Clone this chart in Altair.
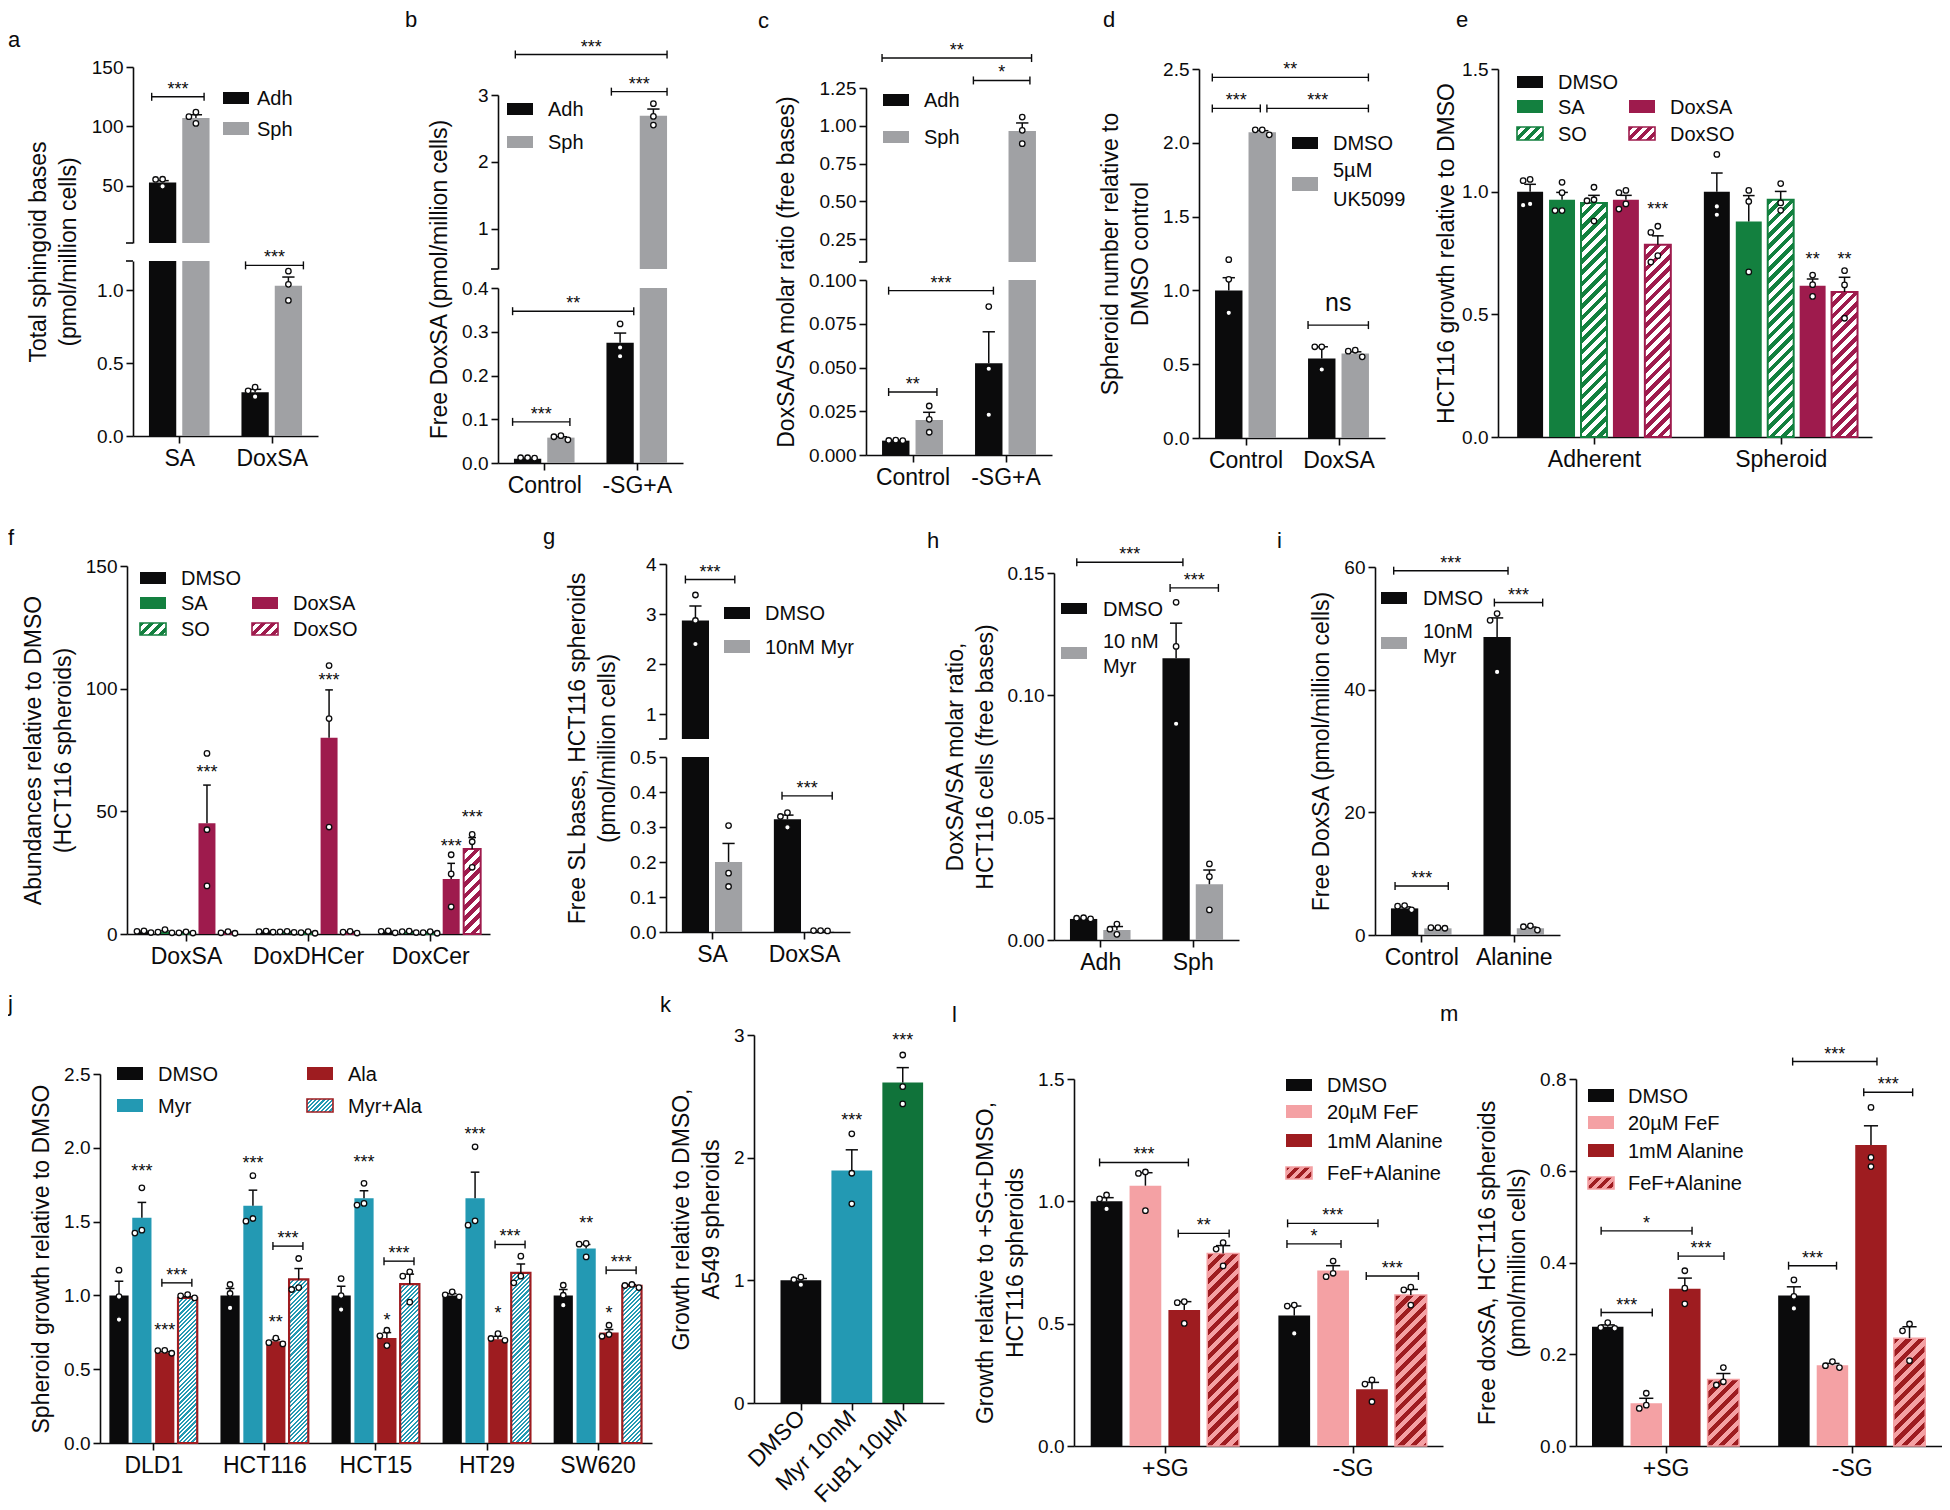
import json
import math
import altair as alt
import pandas as pd

FONT = "Liberation Sans"
BLACK = "#0b0b0c"
GRAY = "#a0a1a4"
GREEN = "#13803f"
CRIMSON = "#9e1b4d"
TEAL = "#2399b3"
DKRED = "#9e1c20"
PINK = "#f4a1a4"
FGREEN = "#10733a"
WHITE = "#ffffff"

# ---------------- data ----------------
# a
a_groups = ["SA", "DoxSA"]
a_mean = [[52.8, 0.30], [107.0, 1.03]]
a_sem = [[1.5, 0.02], [2.8, 0.06]]
a_pts = [[[55.5, 49.5, 55.3], [0.31, 0.335, 0.27]], [[108.2, 112.0, 102.5], [1.13, 1.04, 0.93]]]
a_brackets = [(0, 0, 0, 1, 124.9, "***", -0.4, 0.3), (1, 0, 1, 1, 1.17, "***", -0.35, 0.55)]

# b
b_groups = ["Control", "-SG+A"]
b_mean = [[0.010, 0.275], [0.058, 2.69]]
b_sem = [[0.001, 0.022], [0.002, 0.10]]
b_pts = [[[0.012, 0.012, 0.011], [0.318, 0.264, 0.244]], [[0.0625, 0.060, 0.053], [2.87, 2.68, 2.55]]]
b_brackets = [(0, 0, 1, 1, 3.605, "***", -0.45, 0.5), (1, 0, 1, 1, 3.05, "***", -0.32, 0.5),
              (0, 0, 1, 0, 0.347, "**", -0.55, 0.5), (0, 0, 0, 1, 0.094, "***", -0.55, 0.33)]

# c
c_groups = ["Control", "-SG+A"]
c_mean = [[0.0082, 0.0524], [0.020, 0.966]]
c_sem = [[0.0002, 0.018], [0.0044, 0.053]]
c_pts = [[[0.0085, 0.0083, 0.0082], [0.0848, 0.0493, 0.023]], [[0.028, 0.0204, 0.013], [1.058, 0.97, 0.882]]]
c_brackets = [(0, 0, 1, 1, 1.448, "**", -0.5, 0.34), (1, 0, 1, 1, 1.30, "*", -0.56, 0.28),
              (0, 0, 1, 0, 0.0939, "***", -0.26, 0.17), (0, 0, 0, 1, 0.036, "**", -0.26, 0.28)]

# d
d_groups = ["Control", "DoxSA"]
d_mean = [[1.0, 0.538], [2.072, 0.572]]
d_sem = [[0.086, 0.08], [0.01, 0.012]]
d_pts = [[[1.208, 1.075, 0.848], [0.618, 0.618, 0.464]], [[2.088, 2.088, 2.054], [0.588, 0.595, 0.55]]]
d_brackets = [(0, 0, 1, 1, 2.443, "**", -0.6, 0.48), (0, 0, 0, 1, 2.233, "***", -0.6, -0.07),
              (0, 1, 1, 1, 2.233, "***", 0.17, 0.48), (1, 0, 1, 1, 0.765, "ns", -0.5, 0.48)]

# e
e_groups = ["Adherent", "Spheroid"]
e_mean = [[1.0, 1.0], [0.967, 0.878], [0.954, 0.967], [0.967, 0.617], [0.784, 0.591]]
e_sem = [[0.03, 0.076], [0.03, 0.106], [0.031, 0.034], [0.018, 0.027], [0.036, 0.06]]
e_pts = [
    [[1.05, 1.045, 0.95, 0.945], [1.152, 0.94, 0.906]],
    [[1.038, 0.996, 0.923, 0.923], [1.005, 0.96, 0.673]],
    [[1.018, 0.967, 0.963, 0.880], [1.033, 0.954, 0.924]],
    [[1.005, 0.996, 0.95, 0.929], [0.66, 0.621, 0.573]],
    [[0.859, 0.834, 0.739, 0.713], [0.678, 0.62, 0.484]],
]
e_stars = [(0, 4, 0.94, "***"), (1, 3, 0.736, "**"), (1, 4, 0.736, "**")]

# f
f_groups = ["DoxSA", "DoxDHCer", "DoxCer"]
f_mean = [[1.0, 1.0, 1.0], [1.0, 0.9, 0.9], [0.6, 0.6, 0.6], [45.1, 80.0, 22.4], [0.6, 0.7, 34.6]]
f_sem = [[0.2, 0.15, 0.2], [0.35, 0.1, 0.15], [0.15, 0.2, 0.2], [15.6, 19.5, 6.4], [0.2, 0.2, 4.7]]
f_pts = [
    [[1.3, 1.1, 0.6], [1.2, 1.0, 0.8], [1.3, 1.1, 0.5]],
    [[1.8, 0.8, 0.5], [1.1, 0.9, 0.7], [1.2, 1.0, 0.6]],
    [[0.9, 0.5, 0.4], [1.0, 0.6, 0.3], [1.0, 0.6, 0.3]],
    [[73.6, 42.5, 19.6], [109.4, 87.8, 43.6], [32.3, 24.5, 11.1]],
    [[1.0, 0.5, 0.3], [1.1, 0.8, 0.4], [40.6, 37.6, 27.2]],
]
f_stars = [(0, 3, 67.1, "***"), (1, 3, 104.9, "***"), (2, 3, 37.2, "***"), (2, 4, 48.8, "***")]

# g
g_groups = ["SA", "DoxSA"]
g_mean = [[2.87, 0.322], [0.20, 0.003]]
g_sem = [[0.29, 0.012], [0.053, 0.0005]]
g_pts = [[[3.38, 2.87, 2.40], [0.341, 0.33, 0.299]], [[0.304, 0.168, 0.130], [0.004, 0.004, 0.003]]]
g_brackets = [(0, 0, 0, 1, 3.69, "***", -0.37, 0.23), (1, 0, 1, 1, 0.389, "***", -0.2, 0.43)]

# h
h_groups = ["Adh", "Sph"]
h_mean = [[0.0086, 0.1152], [0.0041, 0.0228]]
h_sem = [[0.0002, 0.0143], [0.0014, 0.0058]]
h_pts = [[[0.0091, 0.0089, 0.0086], [0.138, 0.12, 0.0884]], [[0.0065, 0.0044, 0.0023], [0.0311, 0.0259, 0.0123]]]
h_brackets = [(0, 0, 1, 0, 0.1544, "***", -0.25, 0.25), (1, 0, 1, 1, 0.1439, "***", -0.22, 0.33)]

# i
i_groups = ["Control", "Alanine"]
i_mean = [[4.34, 48.6], [1.09, 1.1]]
i_sem = [[0.25, 3.1], [0.05, 0.2]]
i_pts = [[[4.8, 4.7, 4.1], [52.4, 51.3, 42.9]], [[1.2, 1.2, 1.1], [1.5, 1.35, 0.8]]]
i_brackets = [(0, 0, 1, 0, 59.4, "***", -0.4, 0.4), (1, 0, 1, 1, 54.2, "***", -0.1, 0.45),
              (0, 0, 0, 1, 8.0, "***", -0.35, 0.38)]

# j
j_groups = ["DLD1", "HCT116", "HCT15", "HT29", "SW620"]
j_mean = [[1.0, 1.0, 1.0, 1.0, 1.0],
          [1.526, 1.607, 1.659, 1.659, 1.318],
          [0.613, 0.689, 0.712, 0.703, 0.748],
          [0.983, 1.108, 1.076, 1.153, 1.065]]
j_sem = [[0.096, 0.047, 0.062, 0.012, 0.04],
         [0.104, 0.106, 0.05, 0.176, 0.027],
         [0.006, 0.012, 0.036, 0.02, 0.021],
         [0.008, 0.074, 0.068, 0.059, 0.008]]
j_pts = [
    [[1.171, 0.992, 0.836], [1.074, 1.013, 0.915], [1.114, 0.999, 0.904], [1.024, 1.004, 0.99], [1.069, 1.001, 0.934]],
    [[1.729, 1.442, 1.422], [1.811, 1.521, 1.503], [1.759, 1.623, 1.612], [2.007, 1.505, 1.476], [1.352, 1.347, 1.261]],
    [[0.628, 0.626, 0.608], [0.71, 0.68, 0.671], [0.764, 0.726, 0.66], [0.741, 0.708, 0.696], [0.798, 0.735, 0.723]],
    [[1.006, 0.997, 0.983], [1.25, 1.053, 1.04], [1.16, 1.13, 0.954], [1.266, 1.13, 1.085], [1.074, 1.067, 1.053]],
]
j_myr_stars = [1.865, 1.917, 1.921, 2.116, 1.51]
j_myr_labels = ["***", "***", "***", "***", "**"]
j_ala_stars = [0.787, 0.843, 0.854, 0.9, 0.9]
j_ala_labels = ["***", "**", "*", "*", "*"]
j_bracket_y = [1.085, 1.334, 1.232, 1.345, 1.171]

# k
k_groups = ["DMSO", "Myr 10nM", "FuB1 10µM"]
k_mean = [1.0, 1.895, 2.612]
k_sem = [0.015, 0.169, 0.122]
k_pts = [[1.026, 1.005, 0.964], [2.194, 1.873, 1.624], [2.837, 2.579, 2.438]]
k_stars = [(1, 0, 2.335, "***"), (2, 0, 2.98, "***")]

# l
l_groups = ["+SG", "-SG"]
l_mean = [[1.0, 0.533], [1.064, 0.717], [0.556, 0.232], [0.787, 0.617]]
l_sem = [[0.015, 0.039], [0.053, 0.02], [0.034, 0.028], [0.032, 0.023]]
l_pts = [
    [[1.026, 1.01, 0.969], [0.576, 0.572, 0.46]],
    [[1.12, 1.114, 0.962], [0.756, 0.706, 0.692]],
    [[0.59, 0.586, 0.501], [0.27, 0.253, 0.181]],
    [[0.831, 0.805, 0.736], [0.649, 0.638, 0.576]],
]
l_brackets = [(0, 0, 0, 2, 1.159, "***", -0.22, 0.13), (0, 2, 0, 3, 0.869, "**", -0.19, 0.19),
              (1, 0, 1, 2, 0.91, "***", -0.21, 0.19), (1, 0, 1, 1, 0.826, "*", -0.23, 0.25),
              (1, 2, 1, 3, 0.695, "***", -0.18, 0.24)]

# m
m_groups = ["+SG", "-SG"]
m_mean = [[0.260, 0.328], [0.093, 0.176], [0.343, 0.656], [0.145, 0.235]]
m_sem = [[0.004, 0.019], [0.011, 0.004], [0.023, 0.042], [0.013, 0.025]]
m_pts = [
    [[0.269, 0.258, 0.2565], [0.362, 0.326, 0.30]],
    [[0.115, 0.089, 0.082], [0.184, 0.175, 0.171]],
    [[0.382, 0.344, 0.31], [0.738, 0.629, 0.609]],
    [[0.171, 0.14, 0.133], [0.266, 0.251, 0.186]],
]
m_brackets = [(1, 0, 1, 2, 0.838, "***", -0.04, 0.19), (1, 2, 1, 3, 0.771, "***", -0.23, 0.1),
              (0, 0, 0, 2, 0.469, "*", -0.21, 0.23), (0, 2, 0, 3, 0.414, "***", -0.21, 0.02),
              (0, 0, 0, 1, 0.291, "***", -0.21, 0.19), (1, 0, 1, 1, 0.393, "***", -0.17, 0.13)]

# hatch styles: (stripe colour, background, outline, period px, outline width)
HG = (GREEN, WHITE, GREEN, 8, 2)
HC = (CRIMSON, WHITE, CRIMSON, 8, 2)
HF = (DKRED, PINK, PINK, 9, 1.5)
HM = (TEAL, WHITE, DKRED, 3, 2.2)

DUMMY = pd.DataFrame({"z": [0]})
DOT = 7.0
VIEW_W, VIEW_H = 1934, 1494
PAGE = 8  # page margin


def hatch_fill(stripe, bg, w, h, period):
    w = max(float(w), 1.0)
    h = max(float(h), 1.0)
    k = (w + h) / (w * w + h * h)
    D = (w + h) / math.sqrt(2.0)
    pt = period / D
    stops = []
    t = 0.0
    while t < 1.0 - 1e-9:
        t1 = min(t + 0.5 * pt, 1.0)
        t2 = min(t + pt, 1.0)
        stops += [{"offset": round(t, 5), "color": stripe}, {"offset": round(t1, 5), "color": stripe},
                  {"offset": round(t1, 5), "color": bg}, {"offset": round(t2, 5), "color": bg}]
        t += pt
    return {"gradient": "linear", "x1": 0, "y1": 0, "x2": round(w * k, 5), "y2": round(h * k, 5),
            "stops": stops}


def ypx(seg, v):
    d0, d1 = seg["domain"]
    r0, r1 = seg["range"]
    return r0 + (v - d0) / (d1 - d0) * (r1 - r0)


def seg_of(segs, v):
    if len(segs) == 1:
        return 0
    return 1 if v > segs[1]["domain"][0] + 1e-12 else 0


def swarm(pys, d):
    offs = [0.0] * len(pys)
    placed = []
    for i in sorted(range(len(pys)), key=lambda q: pys[q]):
        for c in [0.0, -d, d, -2 * d, 2 * d, -3 * d, 3 * d]:
            if all(math.hypot(c - offs[j], pys[i] - pys[j]) >= d for j in placed):
                offs[i] = c
                break
        placed.append(i)
    return offs


def series_list(means, sems, pts, colors, hatches=None):
    out = []
    for s in range(len(means)):
        out.append(dict(mean=means[s], sem=sems[s], pts=pts[s], color=colors[s],
                        hatch=(hatches[s] if hatches else None)))
    return out


def make_panel(P):
    # panel origin in view pixels: left edge of plot, top of its row
    ox = P["origin"][0] - PAGE
    oy = P["origin"][1] - PAGE
    W, H = P["width"], P["height"]
    xd = P["xdomain"]
    pxu = W / (xd[1] - xd[0])
    groups = P["groups"]
    G = len(groups)
    series = P["series"]
    S = len(series)
    step, bw = P["step"], P["bw"]
    bwpx = bw * pxu
    segs = [dict(s, range=[s["range"][0] + oy, s["range"][1] + oy]) for s in P["segs"]]
    cap = P.get("cap", 0.45) * bwpx

    def center(g, s):
        return g + (s - (S - 1) / 2.0) * step

    xscale = alt.Scale(domain=xd, range=[ox, ox + W], nice=False, zero=False)
    xaxis = alt.Axis(values=list(range(G)),
                     labelExpr=json.dumps(groups, ensure_ascii=False) + "[datum.value]",
                     title=None, labelFontSize=23, labelAngle=P.get("xangle", 0), orient="bottom",
                     offset=oy + H - VIEW_H,
                     labelPadding=P.get("xpad", 4), labelFlush=False, labelOverlap=False,
                     labelBound=False, **P.get("xaxis_extra", {}))

    def Xf(f):
        return alt.X(f + ":Q", scale=xscale, axis=xaxis)

    per = [dict(bars=[], hbars=[], err=[], pts=[], br=[], brl=[], st=[]) for _ in segs]
    for s, ser in enumerate(series):
        for g in range(G):
            m = ser["mean"][g]
            if m is None:
                continue
            col = ser["color"][g] if isinstance(ser["color"], list) else ser["color"]
            hat = ser.get("hatch")
            xc = center(g, s)
            for si, seg in enumerate(segs):
                lo, hi = seg["domain"]
                if si == 0:
                    top, bot = min(m, hi), lo
                else:
                    if m <= lo:
                        continue
                    top, bot = m, lo
                rec = dict(x0=xc - bw / 2, x1=xc + bw / 2, yt=top, yb=bot, color=col)
                if hat:
                    per[si]["hbars"].append((rec, hat, ypx(seg, bot) - ypx(seg, top)))
                else:
                    per[si]["bars"].append(rec)
            e = ser["sem"][g]
            if e and e > 0:
                per[seg_of(segs, m)]["err"].append(dict(xc=xc, m=m, t=m + e))
            pv = ser["pts"][g]
            pys = [ypx(segs[seg_of(segs, v)], v) for v in pv]
            offs = swarm(pys, DOT)
            for v, o in zip(pv, offs):
                per[seg_of(segs, v)]["pts"].append(dict(px=xc + o / pxu, v=v))

    for br in P.get("brackets", []):
        g1, s1, g2, s2, y, lab = br[:6]
        e1, e2 = (br[6], br[7]) if len(br) > 6 else (-0.4, 0.4)
        x1 = center(g1, s1) + e1 * bw
        x2 = center(g2, s2) + e2 * bw
        si = seg_of(segs, y)
        per[si]["br"].append(dict(x1=x1, x2=x2, y=y))
        per[si]["brl"].append(dict(xm=(x1 + x2) / 2, y=y, lab=lab))
    for (g, s, y, lab) in P.get("stars", []):
        per[seg_of(segs, y)]["st"].append(dict(xc=center(g, s), y=y, lab=lab))

    seg_charts = []
    for si, seg in enumerate(segs):
        ax_kw = dict(values=seg["ticks"], format=seg["fmt"],
                     orient="left", offset=-ox, labelOverlap=False, labelFlush=False, labelBound=False,
                     labelFontSize=19, labelPadding=3, grid=False)
        if si == 0:
            ax_kw.update(title=P["title"], titlePadding=P.get("tpad", 10))
            if "titleY" in P:
                ax_kw["titleY"] = P["titleY"] + oy
        else:
            ax_kw["title"] = None
        yax = alt.Axis(**ax_kw)
        ysc = alt.Scale(domain=seg["domain"], range=seg["range"], nice=False, zero=False)

        def Yf(f, ysc=ysc, yax=yax):
            return alt.Y(f + ":Q", scale=ysc, axis=yax)

        d = per[si]
        L = []
        if d["bars"]:
            L.append(alt.Chart(pd.DataFrame(d["bars"])).mark_bar(strokeWidth=0).encode(
                x=Xf("x0"), x2="x1", y=Yf("yt"), y2="yb", fill=alt.Fill("color:N", scale=None)))
        for rec, hat, hpx in d["hbars"]:
            grad = hatch_fill(hat[0], hat[1], bwpx, hpx, hat[3])
            L.append(alt.Chart(pd.DataFrame([rec])).mark_bar(fill=grad, stroke=hat[2], strokeWidth=hat[4]).encode(
                x=Xf("x0"), x2="x1", y=Yf("yt"), y2="yb"))
        if seg.get("breaks"):
            # short tick closing the axis segment at the break
            L.append(alt.Chart(pd.DataFrame({"v": seg["breaks"]})).mark_rule(strokeWidth=1.6, color=BLACK).encode(
                x=alt.value(ox - 7), x2=alt.value(ox), y=Yf("v")))
        if d["err"]:
            edf = pd.DataFrame(d["err"])
            L.append(alt.Chart(edf).mark_rule(strokeWidth=1.5, color=BLACK).encode(
                x=Xf("xc"), y=Yf("m"), y2="t"))
            L.append(alt.Chart(edf).mark_tick(orient="horizontal", size=cap, thickness=1.5,
                                              color=BLACK, opacity=1).encode(x=Xf("xc"), y=Yf("t")))
        if d["pts"]:
            L.append(alt.Chart(pd.DataFrame(d["pts"])).mark_point(
                shape="circle", filled=True, fill=WHITE, stroke=BLACK, strokeWidth=1.3, size=30,
                opacity=1).encode(x=Xf("px"), y=Yf("v")))
        if d["br"]:
            bdf = pd.DataFrame(d["br"])
            L.append(alt.Chart(bdf).mark_rule(strokeWidth=1.4, color=BLACK).encode(
                x=Xf("x1"), x2="x2", y=Yf("y")))
            ends = pd.concat([bdf[["x1", "y"]].rename(columns={"x1": "x"}),
                              bdf[["x2", "y"]].rename(columns={"x2": "x"})], ignore_index=True)
            L.append(alt.Chart(ends).mark_tick(orient="vertical", size=8, thickness=1.4, color=BLACK,
                                               opacity=1).encode(x=Xf("x"), y=Yf("y")))
            ldf = pd.DataFrame(d["brl"])
            stars = ldf[ldf["lab"].str.contains(r"\*")]
            words = ldf[~ldf["lab"].str.contains(r"\*")]
            if len(stars):
                L.append(alt.Chart(stars).mark_text(fontSize=18, dy=-7, color=BLACK).encode(
                    x=Xf("xm"), y=Yf("y"), text="lab:N"))
            if len(words):
                L.append(alt.Chart(words).mark_text(fontSize=25, dy=-22, color=BLACK).encode(
                    x=Xf("xm"), y=Yf("y"), text="lab:N"))
        if d["st"]:
            L.append(alt.Chart(pd.DataFrame(d["st"])).mark_text(fontSize=18, dy=4, color=BLACK).encode(
                x=Xf("xc"), y=Yf("y"), text="lab:N"))
        seg_charts.append(alt.layer(*L))

    ex = []
    lx, ly = P["letter"]
    ex.append(alt.Chart(DUMMY).mark_text(text=P["key"], fontSize=22, align="left", baseline="alphabetic",
                                         color=BLACK).encode(x=alt.value(lx + ox), y=alt.value(ly + oy)))
    leg = P.get("legend")
    if leg:
        for lines, fill, hat, x, y, sh in leg["items"]:
            sw = 26
            x += ox
            y += oy
            if hat:
                grad = hatch_fill(hat[0], hat[1], sw, sh, min(hat[3], 7))
                mk = alt.Chart(DUMMY).mark_rect(fill=grad, stroke=hat[2], strokeWidth=1.6)
            else:
                mk = alt.Chart(DUMMY).mark_rect(fill=fill, strokeWidth=0)
            ex.append(mk.encode(x=alt.value(x), x2=alt.value(x + sw), y=alt.value(y), y2=alt.value(y + sh)))
            cy = y + sh / 2.0
            n = len(lines)
            lh = leg.get("lh", 27)
            for i, t in enumerate(lines):
                ex.append(alt.Chart(DUMMY).mark_text(text=t, fontSize=20, align="left", baseline="middle",
                                                     color=BLACK).encode(
                    x=alt.value(x + leg["off"]), y=alt.value(cy + (i - (n - 1) / 2.0) * lh + 1)))
    return alt.layer(*seg_charts, *ex).resolve_scale(y="independent")


X2 = dict(xdomain=[-0.5, 1.5], step=0.36, bw=0.295)
BG = [BLACK, GRAY]
ROW1, ROW2, ROW3 = 67, 564, 1035

PA = make_panel(dict(key="a", origin=(133, ROW1), width=185, height=369, groups=a_groups, **X2,
                     series=series_list(a_mean, a_sem, a_pts, BG),
                     segs=[dict(domain=[0, 1.2], range=[369, 194], ticks=[0, 0.5, 1.0], breaks=[1.2], fmt=".1f"),
                           dict(domain=[1.8, 150], range=[176, 0], ticks=[50, 100, 150], breaks=[1.8], fmt="d")],
                     title=["Total sphingoid bases", "(pmol/million cells)"], titleY=184.5, tpad=16,
                     brackets=a_brackets, letter=(-125, -20),
                     legend=dict(off=34, items=[(["Adh"], BLACK, None, 90, 25, 12), (["Sph"], GRAY, None, 90, 55, 13)])))

PB = make_panel(dict(key="b", origin=(498, ROW1), width=185, height=396, groups=b_groups, **X2,
                     series=series_list(b_mean, b_sem, b_pts, BG),
                     segs=[dict(domain=[0, 0.4], range=[396, 221], ticks=[0, 0.1, 0.2, 0.3, 0.4], fmt=".1f"),
                           dict(domain=[0.4, 3], range=[202, 28], ticks=[1, 2, 3], breaks=[0.4], fmt="d")],
                     title="Free DoxSA (pmol/million cells)", titleY=212,
                     brackets=b_brackets, letter=(-93, -40),
                     legend=dict(off=41, items=[(["Adh"], BLACK, None, 9, 36, 12), (["Sph"], GRAY, None, 9, 69, 12)])))

PC = make_panel(dict(key="c", origin=(866, ROW1), width=186, height=388, groups=c_groups, **X2,
                     series=series_list(c_mean, c_sem, c_pts, BG),
                     segs=[dict(domain=[0, 0.1], range=[388, 213], ticks=[0, 0.025, 0.05, 0.075, 0.1], fmt=".3f"),
                           dict(domain=[0.1, 1.25], range=[195, 21], ticks=[0.25, 0.5, 0.75, 1.0, 1.25],
                                breaks=[0.1], fmt=".2f")],
                     title="DoxSA/SA molar ratio (free bases)", titleY=204.5,
                     brackets=c_brackets, letter=(-108, -39),
                     legend=dict(off=41, items=[(["Adh"], BLACK, None, 17, 27, 12), (["Sph"], GRAY, None, 17, 64, 12)])))

PD = make_panel(dict(key="d", origin=(1199, ROW1), width=186, height=371, groups=d_groups, **X2,
                     series=series_list(d_mean, d_sem, d_pts, BG),
                     segs=[dict(domain=[0, 2.5], range=[371, 2], ticks=[0, 0.5, 1.0, 1.5, 2.0, 2.5], fmt=".1f")],
                     title=["Spheroid number relative to", "DMSO control"],
                     brackets=d_brackets, letter=(-96, -40),
                     legend=dict(off=41, lh=29, items=[(["DMSO"], BLACK, None, 93, 70, 12),
                                                       (["5µM", "UK5099"], GRAY, None, 93, 110, 14)])))

PE = make_panel(dict(key="e", origin=(1498, ROW1), width=374, height=370, groups=e_groups,
                     xdomain=[-0.514, 1.489], step=0.171, bw=0.139,
                     series=series_list(e_mean, e_sem, e_pts, [BLACK, GREEN, GREEN, CRIMSON, CRIMSON],
                                        [None, None, HG, None, HC]),
                     segs=[dict(domain=[0, 1.5], range=[370, 2], ticks=[0, 0.5, 1.0, 1.5], fmt=".1f")],
                     title="HCT116 growth relative to DMSO", tpad=3,
                     stars=e_stars, letter=(-42, -40),
                     legend=dict(off=41, items=[(["DMSO"], BLACK, None, 19, 9, 12), (["SA"], GREEN, None, 19, 33, 13),
                                                (["SO"], None, HG, 19, 60, 13), (["DoxSA"], CRIMSON, None, 131, 33, 13),
                                                (["DoxSO"], None, HC, 131, 60, 13)])))

PF = make_panel(dict(key="f", origin=(127, ROW2), width=363, height=370, groups=f_groups,
                     xdomain=[-0.483, 2.49], step=0.172, bw=0.139,
                     series=series_list(f_mean, f_sem, f_pts, [BLACK, GREEN, GREEN, CRIMSON, CRIMSON],
                                        [None, None, HG, None, HC]),
                     segs=[dict(domain=[0, 150], range=[370, 2], ticks=[0, 50, 100, 150], fmt="d")],
                     title=["Abundances relative to DMSO", "(HCT116 spheroids)"],
                     stars=f_stars, letter=(-119, -19),
                     legend=dict(off=41, items=[(["DMSO"], BLACK, None, 13, 8, 12), (["SA"], GREEN, None, 13, 33, 12),
                                                (["SO"], None, HG, 13, 59, 12), (["DoxSA"], CRIMSON, None, 125, 33, 12),
                                                (["DoxSO"], None, HC, 125, 59, 12)])))

PG = make_panel(dict(key="g", origin=(666, ROW2), width=184, height=368, groups=g_groups, **X2,
                     series=series_list(g_mean, g_sem, g_pts, BG),
                     segs=[dict(domain=[0, 0.5], range=[368, 193], ticks=[0, 0.1, 0.2, 0.3, 0.4, 0.5], fmt=".1f"),
                           dict(domain=[0.5, 4], range=[175, 0], ticks=[1, 2, 3, 4], breaks=[0.5], fmt="d")],
                     title=["Free SL bases, HCT116 spheroids", "(pmol/million cells)"], titleY=184,
                     brackets=g_brackets, letter=(-123, -20),
                     legend=dict(off=41, items=[(["DMSO"], BLACK, None, 58, 43, 12),
                                                (["10nM Myr"], GRAY, None, 58, 76, 13)])))

PH = make_panel(dict(key="h", origin=(1054, ROW2), width=185, height=376, groups=h_groups, **X2,
                     series=series_list(h_mean, h_sem, h_pts, BG),
                     segs=[dict(domain=[0, 0.15], range=[376, 9], ticks=[0, 0.05, 0.1, 0.15], fmt=".2f")],
                     title=["DoxSA/SA molar ratio,", "HCT116 cells (free bases)"],
                     brackets=h_brackets, letter=(-127, -16),
                     legend=dict(off=42, lh=25, items=[(["DMSO"], BLACK, None, 7, 39, 11),
                                                       (["10 nM", "Myr"], GRAY, None, 7, 83, 12)])))

PI = make_panel(dict(key="i", origin=(1375, ROW2), width=185, height=371, groups=i_groups, **X2,
                     series=series_list(i_mean, i_sem, i_pts, BG),
                     segs=[dict(domain=[0, 60], range=[371, 3], ticks=[0, 20, 40, 60], fmt="d")],
                     title="Free DoxSA (pmol/million cells)",
                     brackets=i_brackets, letter=(-98, -16),
                     legend=dict(off=42, lh=25, items=[(["DMSO"], BLACK, None, 6, 28, 12),
                                                       (["10nM", "Myr"], GRAY, None, 6, 73, 12)])))

j_stars = ([(g, 1, j_myr_stars[g], j_myr_labels[g]) for g in range(5)]
           + [(g, 2, j_ala_stars[g], j_ala_labels[g]) for g in range(5)])
j_brackets = [(g, 2, g, 3, j_bracket_y[g], "***", -0.15, 0.22) for g in range(5)]
PJ = make_panel(dict(key="j", origin=(100, ROW3), width=552, height=408, groups=j_groups,
                     xdomain=[-0.48, 4.49], step=0.206, bw=0.173,
                     series=series_list(j_mean, j_sem, j_pts, [BLACK, TEAL, DKRED, TEAL], [None, None, None, HM]),
                     segs=[dict(domain=[0, 2.5], range=[408, 39], ticks=[0, 0.5, 1.0, 1.5, 2.0, 2.5], fmt=".1f")],
                     title="Spheroid growth relative to DMSO",
                     stars=j_stars, brackets=j_brackets, letter=(-92, -24),
                     legend=dict(off=41, items=[(["DMSO"], BLACK, None, 17, 32, 13), (["Myr"], TEAL, None, 17, 64, 13),
                                                (["Ala"], DKRED, None, 207, 32, 13),
                                                (["Myr+Ala"], None, HM, 207, 64, 13)])))

PK = make_panel(dict(key="k", origin=(754, ROW3), width=190, height=368, groups=k_groups,
                     xdomain=[-0.92, 2.81], step=0.0, bw=0.80,
                     series=[dict(mean=k_mean, sem=k_sem, pts=k_pts, color=[BLACK, TEAL, FGREEN], hatch=None)],
                     segs=[dict(domain=[0, 3], range=[368, 0], ticks=[0, 1, 2, 3], fmt="d")],
                     title=["Growth relative to DMSO,", "A549 spheroids"], cap=0.3,
                     stars=k_stars, letter=(-94, -23), xangle=-45,
                     xaxis_extra=dict(labelAlign="right", labelBaseline="middle")))

PL = make_panel(dict(key="l", origin=(1074, ROW3), width=369, height=411, groups=l_groups,
                     xdomain=[-0.484, 1.482], step=0.207, bw=0.169,
                     series=series_list(l_mean, l_sem, l_pts, [BLACK, PINK, DKRED, PINK], [None, None, None, HF]),
                     segs=[dict(domain=[0, 1.5], range=[411, 44], ticks=[0, 0.5, 1.0, 1.5], fmt=".1f")],
                     title=["Growth relative to +SG+DMSO,", "HCT116 spheroids"],
                     brackets=l_brackets, letter=(-122, -13),
                     legend=dict(off=41, items=[(["DMSO"], BLACK, None, 212, 44, 12),
                                                (["20µM FeF"], PINK, None, 212, 70, 13),
                                                (["1mM Alanine"], DKRED, None, 212, 99, 13),
                                                (["FeF+Alanine"], None, HF, 212, 132, 12)])))

PM = make_panel(dict(key="m", origin=(1576, ROW3), width=366, height=411, groups=m_groups,
                     xdomain=[-0.481, 1.485], step=0.207, bw=0.169,
                     series=series_list(m_mean, m_sem, m_pts, [BLACK, PINK, DKRED, PINK], [None, None, None, HF]),
                     segs=[dict(domain=[0, 0.8], range=[411, 44], ticks=[0, 0.2, 0.4, 0.6, 0.8], fmt=".1f")],
                     title=["Free doxSA, HCT116 spheroids", "(pmol/million cells)"],
                     brackets=m_brackets, letter=(-136, -14),
                     legend=dict(off=40, items=[(["DMSO"], BLACK, None, 12, 54, 13),
                                                (["20µM FeF"], PINK, None, 12, 81, 13),
                                                (["1mM Alanine"], DKRED, None, 12, 109, 13),
                                                (["FeF+Alanine"], None, HF, 12, 142, 12)])))

chart = alt.layer(PA, PB, PC, PD, PE, PF, PG, PH, PI, PJ, PK, PL, PM).resolve_scale(
    x="independent", y="independent"
).properties(
    width=VIEW_W, height=VIEW_H, padding=0, background="white"
).configure(font=FONT).configure_view(stroke=None).configure_axis(
    domainColor=BLACK, domainWidth=1.6, tickColor=BLACK, tickWidth=1.6, tickSize=7,
    labelColor=BLACK, titleColor=BLACK, labelFont=FONT, titleFont=FONT, titleFontWeight="normal",
    titleFontSize=23, titleLineHeight=30, grid=False)

chart.save("out.html", embed_options={"renderer": "svg", "actions": False})
